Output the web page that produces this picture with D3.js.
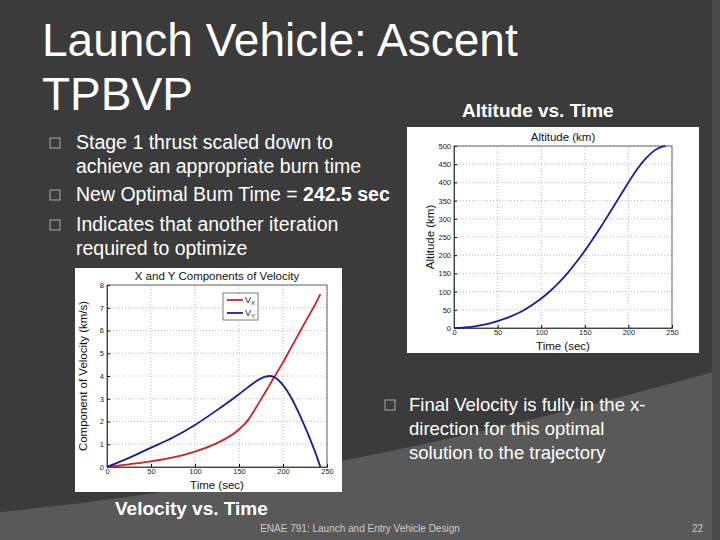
<!DOCTYPE html>
<html>
<head>
<meta charset="UTF-8">
<script src="https://cdn.jsdelivr.net/npm/d3@7"></script>
<style>
  body { margin: 0; background: #3b3b3b; }
  text { font-family: "Liberation Sans", Arial, sans-serif; }
</style>
</head>
<body>
<script>
    // altitude vs time
    var altT = [0, 10, 20, 30, 40, 50, 60, 70, 80, 90, 100, 110, 120, 130, 140, 150, 160, 170, 180, 190, 200, 210, 220, 230, 240, 242.5];
    var altKm = [0, 1, 3, 7, 12, 19, 27, 37, 49, 64, 81, 101, 124, 150, 180, 212, 247, 284, 322, 361, 400, 436, 466, 488, 499, 500];
    var altTicksY = [0, 50, 100, 150, 200, 250, 300, 350, 400, 450, 500];

    // velocity components
    var velT = [0, 25, 50, 75, 100, 125, 150, 160, 170, 180, 185, 190, 200, 210, 220, 230, 238, 242.5];
    var vx = [0, 0.12, 0.25, 0.42, 0.68, 1.05, 1.65, 2.05, 2.65, 3.3, 3.62, 3.95, 4.6, 5.3, 6.0, 6.7, 7.25, 7.6];
    var vy = [0, 0.4, 0.85, 1.3, 1.85, 2.5, 3.2, 3.5, 3.78, 3.97, 4.0, 3.95, 3.6, 3.0, 2.2, 1.3, 0.5, 0];
    var timeTicks = [0, 50, 100, 150, 200, 250];
    var velTicksY = [0, 1, 2, 3, 4, 5, 6, 7, 8];

    var bullets = [
        [{t: "Stage 1 thrust scaled down to"}, {t: "achieve an appropriate burn time"}],
        [{t: "New Optimal Bum Time = "}, {t: "242.5 sec", b: true}],
        [{t: "Indicates that another iteration"}, {t: "required to optimize"}]
    ];

    var svg = d3.select("body").append("svg").attr("width", 720).attr("height", 540);

    // background with lighter swoosh
    svg.append("rect").attr("width", 720).attr("height", 540).attr("fill", "#3b3b3b");
    svg.append("path")
        .attr("d", "M0,540 L0,512 Q330,480 720,370 L720,540 Z")
        .attr("fill", "#595959");
    svg.append("rect").attr("x", 712).attr("y", 0).attr("width", 8).attr("height", 540).attr("fill", "#4a4a4a");

    // title
    svg.append("text").attr("x", 42).attr("y", 56).attr("fill", "#fff").attr("font-size", 46).text("Launch Vehicle: Ascent");
    svg.append("text").attr("x", 42).attr("y", 110).attr("fill", "#fff").attr("font-size", 46).text("TPBVP");
    svg.append("text").attr("x", 462).attr("y", 117).attr("fill", "#fff").attr("font-size", 19).attr("font-weight", "bold").text("Altitude vs. Time");

    // bullets
    var lineY = 149;
    bullets.forEach(function (b) {
        svg.append("rect").attr("x", 50).attr("y", lineY - 11).attr("width", 10).attr("height", 10)
            .attr("fill", "none").attr("stroke", "#aaa").attr("stroke-width", 1);
        if (b[1].b) {
            var tx = svg.append("text").attr("x", 76).attr("y", lineY).attr("fill", "#fff").attr("font-size", 19.5);
            tx.append("tspan").text(b[0].t);
            tx.append("tspan").attr("font-weight", "bold").text(b[1].t);
            lineY += 30;
        } else {
            svg.append("text").attr("x", 76).attr("y", lineY).attr("fill", "#fff").attr("font-size", 19.5).text(b[0].t);
            svg.append("text").attr("x", 76).attr("y", lineY + 24).attr("fill", "#fff").attr("font-size", 19.5).text(b[1].t);
            lineY += 52;
        }
    });

    // right-bottom bullet
    svg.append("rect").attr("x", 385).attr("y", 400).attr("width", 10).attr("height", 10)
        .attr("fill", "none").attr("stroke", "#aaa");
    ["Final Velocity is fully in the x-", "direction for this optimal", "solution to the trajectory"].forEach(function (s, i) {
        svg.append("text").attr("x", 409).attr("y", 411 + i * 24).attr("fill", "#fff").attr("font-size", 18.5).text(s);
    });

    svg.append("text").attr("x", 115).attr("y", 515).attr("fill", "#fff").attr("font-size", 19).attr("font-weight", "bold").text("Velocity vs. Time");
    svg.append("text").attr("x", 360).attr("y", 532).attr("text-anchor", "middle").attr("fill", "#ccc").attr("font-size", 10).text("ENAE 791: Launch and Entry Vehicle Design");
    svg.append("text").attr("x", 703).attr("y", 532).attr("text-anchor", "end").attr("fill", "#ccc").attr("font-size", 10).text("22");

    function drawChart(box, plot, xMax, yMax, yTicks, title, yLabel, series) {
        svg.append("rect").attr("x", box.x).attr("y", box.y).attr("width", box.w).attr("height", box.h).attr("fill", "#fff");
        var g = svg.append("g");
        var x = d3.scaleLinear().domain([0, xMax]).range([plot.x0, plot.x1]);
        var y = d3.scaleLinear().domain([0, yMax]).range([plot.y0, plot.y1]);

        // grid
        g.selectAll(".gx").data(timeTicks).enter().append("line")
            .attr("x1", d => x(d)).attr("x2", d => x(d)).attr("y1", plot.y0).attr("y2", plot.y1)
            .attr("stroke", "#bbb").attr("stroke-dasharray", "1,2");
        g.selectAll(".gy").data(yTicks).enter().append("line")
            .attr("x1", plot.x0).attr("x2", plot.x1).attr("y1", d => y(d)).attr("y2", d => y(d))
            .attr("stroke", "#bbb").attr("stroke-dasharray", "1,2");

        var ax = g.append("g").attr("transform", "translate(0," + plot.y0 + ")")
            .call(d3.axisBottom(x).tickValues(timeTicks).tickSize(-3).tickPadding(2));
        var ay = g.append("g").attr("transform", "translate(" + plot.x0 + ",0)")
            .call(d3.axisLeft(y).tickValues(yTicks).tickSize(-3).tickPadding(3));
        [ax, ay].forEach(function (a) {
            a.selectAll("text").attr("font-size", 7.5).attr("fill", "#222");
            a.select(".domain").attr("stroke", "#444");
        });
        g.append("rect").attr("x", plot.x0).attr("y", plot.y1).attr("width", plot.x1 - plot.x0).attr("height", plot.y0 - plot.y1)
            .attr("fill", "none").attr("stroke", "#444").attr("stroke-width", 0.8);

        g.append("text").attr("x", (plot.x0 + plot.x1) / 2).attr("y", plot.y1 - 5).attr("text-anchor", "middle")
            .attr("font-size", 11.5).attr("fill", "#111").text(title);
        g.append("text").attr("x", (plot.x0 + plot.x1) / 2).attr("y", plot.y0 + 22).attr("text-anchor", "middle")
            .attr("font-size", 11.5).attr("fill", "#111").text("Time (sec)");
        g.append("text").attr("transform", "translate(" + (plot.x0 - 20) + "," + ((plot.y0 + plot.y1) / 2) + ") rotate(-90)")
            .attr("text-anchor", "middle").attr("font-size", 11.5).attr("fill", "#111").text(yLabel);

        series.forEach(function (s) {
            var line = d3.line().x((d, i) => x(s.t[i])).y(d => y(d)).curve(d3.curveMonotoneX);
            g.append("path").datum(s.v).attr("d", line).attr("fill", "none")
                .attr("stroke", s.c).attr("stroke-width", 1.8);
        });
        return {x: x, y: y, g: g};
    }

    drawChart({x: 407, y: 127, w: 292, h: 226}, {x0: 454, x1: 672, y0: 328, y1: 146}, 250, 500, altTicksY,
        "Altitude (km)", "Altitude (km)", [{t: altT, v: altKm, c: "#1a1aa8"}]);

    var vc = drawChart({x: 75, y: 268, w: 267, h: 224}, {x0: 107, x1: 327, y0: 467, y1: 285}, 250, 8, velTicksY,
        "X and Y Components of Velocity", "Component of Velocity (km/s)",
        [{t: velT, v: vx, c: "#cc2222"}, {t: velT, v: vy, c: "#1a1aa0"}]);

    // legend
    var lg = vc.g.append("g");
    lg.append("rect").attr("x", 223).attr("y", 293).attr("width", 35).attr("height", 27)
        .attr("fill", "#fff").attr("stroke", "#444").attr("stroke-width", 0.7);
    [{n: "V", s: "X", c: "#cc2222"}, {n: "V", s: "Y", c: "#1a1aa0"}].forEach(function (d, i) {
        var yy = 300 + i * 13;
        lg.append("line").attr("x1", 227).attr("x2", 243).attr("y1", yy).attr("y2", yy).attr("stroke", d.c).attr("stroke-width", 1.8);
        var t = lg.append("text").attr("x", 245).attr("y", yy + 3).attr("font-size", 9).attr("fill", "#222");
        t.append("tspan").text(d.n);
        t.append("tspan").attr("font-size", 6).attr("dy", 2).text(d.s);
    });
</script>
</body>
</html>
